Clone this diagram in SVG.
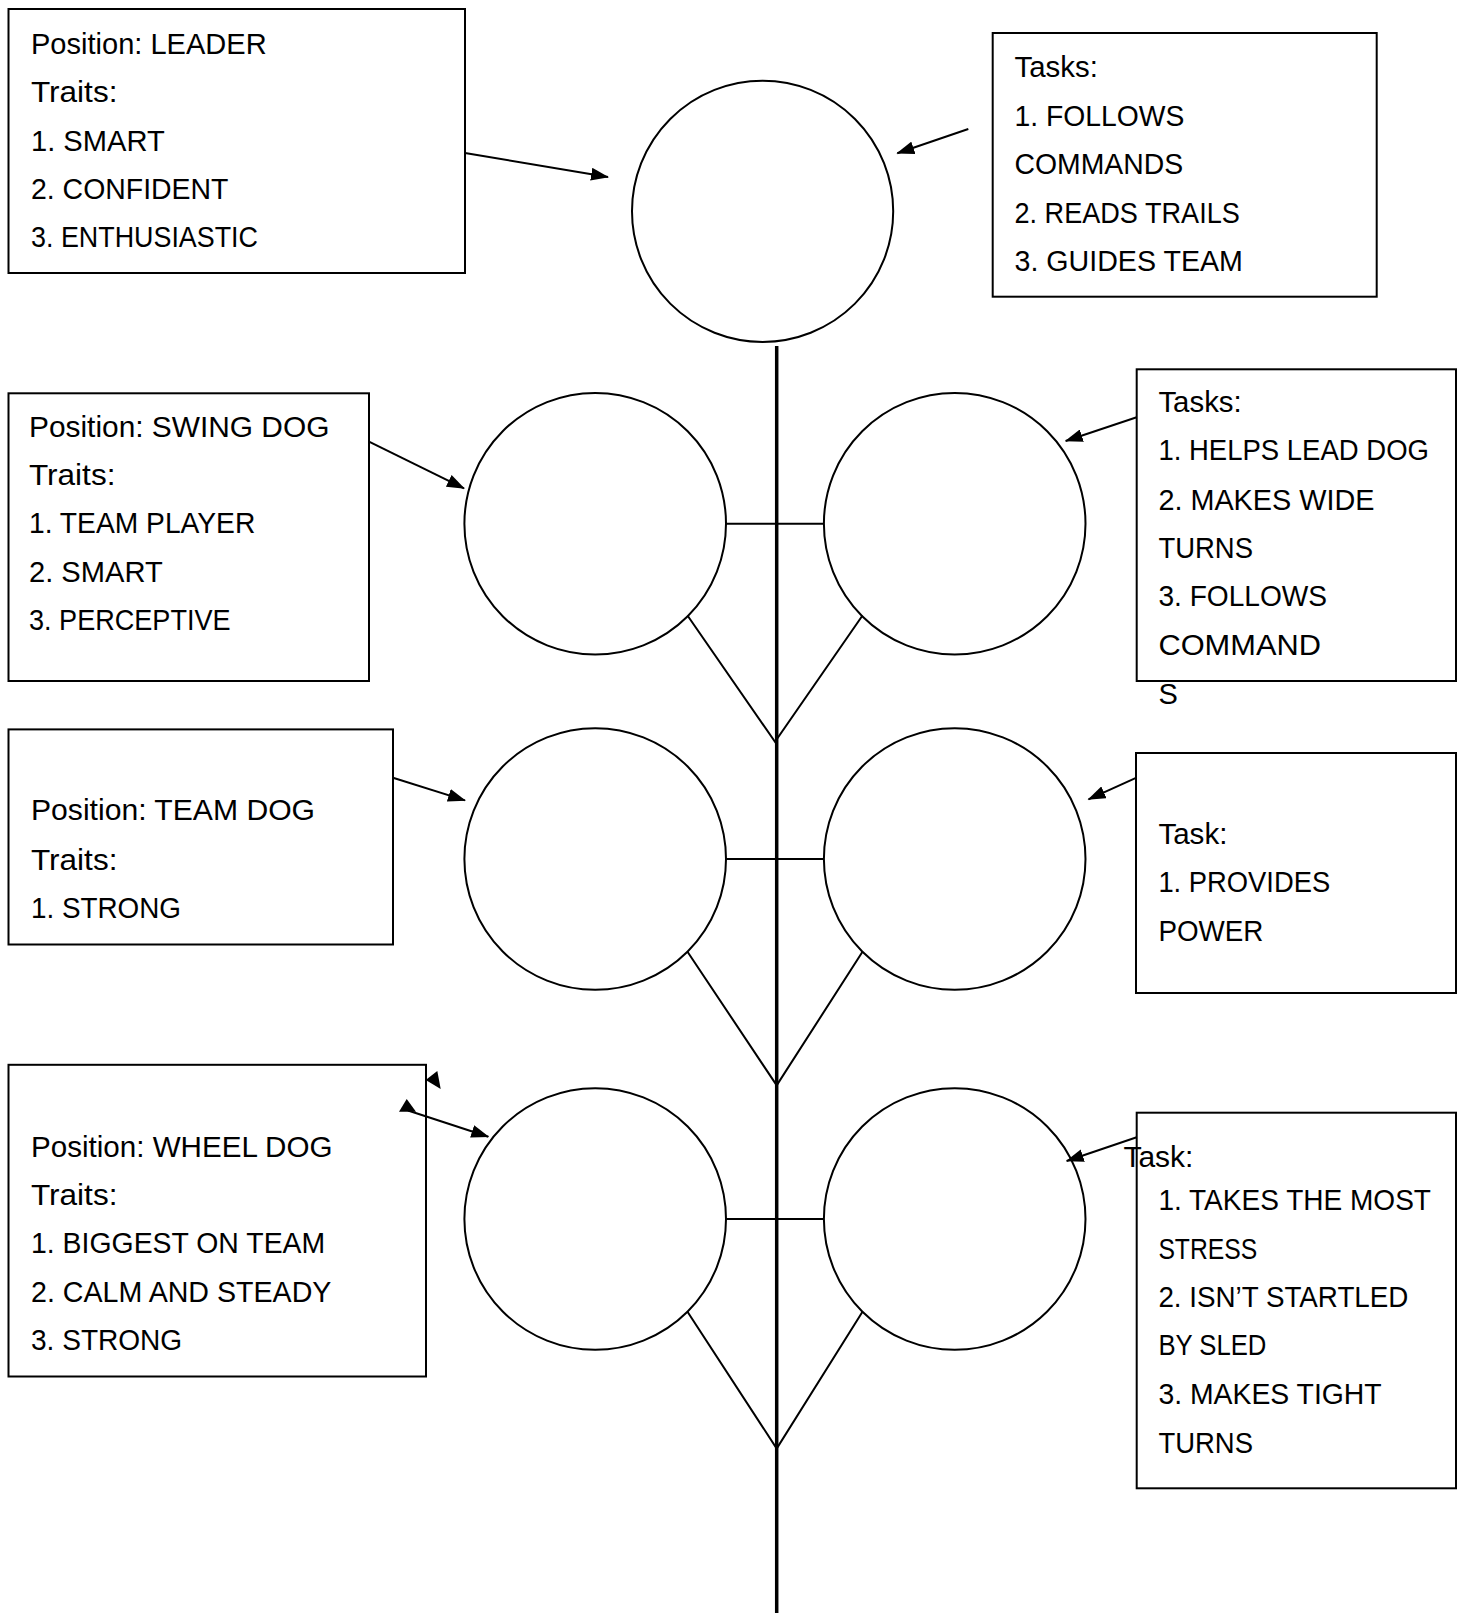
<svg xmlns="http://www.w3.org/2000/svg" width="1463" height="1613" viewBox="0 0 1463 1613">
<style>
.box{fill:#fff;stroke:#000;stroke-width:2}
.dog{fill:#fff;stroke:#000;stroke-width:2}
.ln{stroke:#000;stroke-width:2;fill:none}
.spine{stroke:#000;stroke-width:3.5;fill:none}
.arr{stroke:#000;stroke-width:2;fill:none;marker-end:url(#ah)}
.t{font-family:"Liberation Sans",Arial,sans-serif;font-size:29px;fill:#000}
</style>
<defs>
<marker id="ah" markerUnits="userSpaceOnUse" markerWidth="18" markerHeight="13" refX="17" refY="6.5" orient="auto">
<path d="M0,0 L18,6.5 L0,13 z" fill="#000"/>
</marker>
</defs>
<rect width="1463" height="1613" fill="#fff"/>

<g id="leader-dog"><circle class="dog" cx="762.6" cy="211.3" r="130.6"/></g>
<g id="swing-dog-left"><circle class="dog" cx="595.2" cy="523.7" r="130.8"/></g>
<g id="swing-dog-right"><circle class="dog" cx="954.7" cy="523.7" r="130.8"/></g>
<g id="team-dog-left"><circle class="dog" cx="595.2" cy="859" r="130.8"/></g>
<g id="team-dog-right"><circle class="dog" cx="954.7" cy="859" r="130.8"/></g>
<g id="wheel-dog-left"><circle class="dog" cx="595.2" cy="1219" r="130.8"/></g>
<g id="wheel-dog-right"><circle class="dog" cx="954.7" cy="1219" r="130.8"/></g>

<g id="leader-traits">
<rect class="box" x="8.5" y="9" width="456.5" height="264"/>
<text class="t" x="31" y="53.5" textLength="235.6" lengthAdjust="spacingAndGlyphs">Position: LEADER</text>
<text class="t" x="31" y="102" textLength="86.4" lengthAdjust="spacingAndGlyphs">Traits:</text>
<text class="t" x="31" y="150.5" textLength="133.7" lengthAdjust="spacingAndGlyphs">1. SMART</text>
<text class="t" x="31" y="199" textLength="197.5" lengthAdjust="spacingAndGlyphs">2. CONFIDENT</text>
<text class="t" x="31" y="247" textLength="227" lengthAdjust="spacingAndGlyphs">3. ENTHUSIASTIC</text>
</g>

<g id="leader-tasks">
<rect class="box" x="992.7" y="33" width="384" height="263.7"/>
<text class="t" x="1014.5" y="76.5" textLength="83.3" lengthAdjust="spacingAndGlyphs">Tasks:</text>
<text class="t" x="1014.5" y="125.5" textLength="169.8" lengthAdjust="spacingAndGlyphs">1. FOLLOWS</text>
<text class="t" x="1014.5" y="174" textLength="168.7" lengthAdjust="spacingAndGlyphs">COMMANDS</text>
<text class="t" x="1014.5" y="222.5" textLength="225.3" lengthAdjust="spacingAndGlyphs">2. READS TRAILS</text>
<text class="t" x="1014.5" y="271" textLength="228.4" lengthAdjust="spacingAndGlyphs">3. GUIDES TEAM</text>
</g>

<g id="swing-traits">
<rect class="box" x="8.5" y="393.3" width="360.5" height="287.7"/>
<text class="t" x="29" y="436.5" textLength="300.4" lengthAdjust="spacingAndGlyphs">Position: SWING DOG</text>
<text class="t" x="29" y="485" textLength="86.4" lengthAdjust="spacingAndGlyphs">Traits:</text>
<text class="t" x="29" y="533" textLength="226.3" lengthAdjust="spacingAndGlyphs">1. TEAM PLAYER</text>
<text class="t" x="29" y="581.5" textLength="133.7" lengthAdjust="spacingAndGlyphs">2. SMART</text>
<text class="t" x="29" y="630" textLength="201.6" lengthAdjust="spacingAndGlyphs">3. PERCEPTIVE</text>
</g>

<g id="swing-tasks">
<rect class="box" x="1136.7" y="369.3" width="319.3" height="311.7"/>
<text class="t" x="1158.4" y="411.5" textLength="83.3" lengthAdjust="spacingAndGlyphs">Tasks:</text>
<text class="t" x="1158.4" y="460" textLength="270.6" lengthAdjust="spacingAndGlyphs">1. HELPS LEAD DOG</text>
<text class="t" x="1158.4" y="509.5" textLength="216" lengthAdjust="spacingAndGlyphs">2. MAKES WIDE</text>
<text class="t" x="1158.4" y="558" textLength="94.6" lengthAdjust="spacingAndGlyphs">TURNS</text>
<text class="t" x="1158.4" y="606" textLength="168.7" lengthAdjust="spacingAndGlyphs">3. FOLLOWS</text>
<text class="t" x="1158.4" y="654.5" textLength="162.5" lengthAdjust="spacingAndGlyphs">COMMAND</text>
<text class="t" x="1158.4" y="704">S</text>
</g>

<g id="team-traits">
<rect class="box" x="8.5" y="729.4" width="384.5" height="215.1"/>
<text class="t" x="31" y="820" textLength="284" lengthAdjust="spacingAndGlyphs">Position: TEAM DOG</text>
<text class="t" x="31" y="869.5" textLength="86.4" lengthAdjust="spacingAndGlyphs">Traits:</text>
<text class="t" x="31" y="918" textLength="150" lengthAdjust="spacingAndGlyphs">1. STRONG</text>
</g>

<g id="team-tasks">
<rect class="box" x="1136" y="753" width="320" height="240"/>
<text class="t" x="1158.4" y="844" textLength="69" lengthAdjust="spacingAndGlyphs">Task:</text>
<text class="t" x="1158.4" y="892" textLength="171.8" lengthAdjust="spacingAndGlyphs">1. PROVIDES</text>
<text class="t" x="1158.4" y="940.5" textLength="105" lengthAdjust="spacingAndGlyphs">POWER</text>
</g>

<g id="wheel-traits">
<rect class="box" x="8.5" y="1064.8" width="417.5" height="311.7"/>
<text class="t" x="31" y="1156.5" textLength="301.4" lengthAdjust="spacingAndGlyphs">Position: WHEEL DOG</text>
<text class="t" x="31" y="1205" textLength="86.4" lengthAdjust="spacingAndGlyphs">Traits:</text>
<text class="t" x="31" y="1253" textLength="294.2" lengthAdjust="spacingAndGlyphs">1. BIGGEST ON TEAM</text>
<text class="t" x="31" y="1301.5" textLength="300.4" lengthAdjust="spacingAndGlyphs">2. CALM AND STEADY</text>
<text class="t" x="31" y="1350" textLength="151.2" lengthAdjust="spacingAndGlyphs">3. STRONG</text>
</g>

<g id="wheel-tasks">
<rect class="box" x="1136.7" y="1112.7" width="319.3" height="375.6"/>
<text class="t" x="1123.4" y="1167" textLength="70" lengthAdjust="spacingAndGlyphs">Task:</text>
<text class="t" x="1158.4" y="1210" textLength="272.6" lengthAdjust="spacingAndGlyphs">1. TAKES THE MOST</text>
<text class="t" x="1158.4" y="1258.5" textLength="98.8" lengthAdjust="spacingAndGlyphs">STRESS</text>
<text class="t" x="1158.4" y="1307" textLength="250" lengthAdjust="spacingAndGlyphs">2. ISN’T STARTLED</text>
<text class="t" x="1158.4" y="1355" textLength="108" lengthAdjust="spacingAndGlyphs">BY SLED</text>
<text class="t" x="1158.4" y="1403.5" textLength="223.3" lengthAdjust="spacingAndGlyphs">3. MAKES TIGHT</text>
<text class="t" x="1158.4" y="1453" textLength="94.6" lengthAdjust="spacingAndGlyphs">TURNS</text>
</g>

<g id="connectors">
<line class="spine" x1="776.7" y1="346" x2="776.7" y2="1613"/>
<line class="ln" x1="726" y1="523.7" x2="824" y2="523.7"/>
<line class="ln" x1="726" y1="859" x2="824" y2="859"/>
<line class="ln" x1="726" y1="1219" x2="824" y2="1219"/>
<polyline class="ln" points="687.5,615.5 775,741.8 862.5,615.5"/>
<polyline class="ln" points="687.5,951.7 776.7,1085.4 862.5,951.7"/>
<polyline class="ln" points="687.5,1311.7 776.7,1448.6 862.5,1311.7"/>
<line class="arr" x1="465" y1="153" x2="608" y2="177"/>
<line class="arr" x1="968.3" y1="129" x2="897.3" y2="153.3"/>
<line class="arr" x1="369" y1="441.7" x2="464" y2="488.3"/>
<line class="arr" x1="1136.7" y1="417.3" x2="1065.7" y2="441"/>
<line class="arr" x1="393" y1="777.8" x2="465" y2="800.4"/>
<line class="arr" x1="1136" y1="777.8" x2="1088.5" y2="799.4"/>
<line class="arr" x1="1136.7" y1="1137.3" x2="1066.7" y2="1161"/>
<line class="arr" x1="408" y1="1110.5" x2="488.3" y2="1136.7"/>
<polygon points="399,1111.7 406.7,1099 416,1111.7" fill="#000"/>
<polygon points="425.7,1080 437.3,1071 440.7,1089" fill="#000"/>
</g>
</svg>
